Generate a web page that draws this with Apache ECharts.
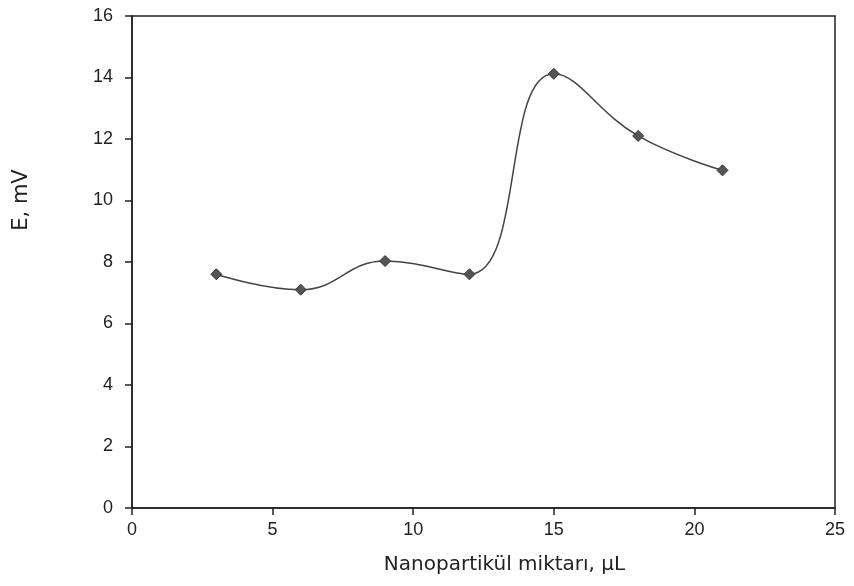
<!DOCTYPE html>
<html><head><meta charset="utf-8">
<script src="https://cdn.jsdelivr.net/npm/echarts@6/dist/echarts.min.js"></script>
<style>html,body{margin:0;padding:0;background:#fff}#c{width:854px;height:586px}</style>
</head><body><div id="c"></div>
<script>
var xValues = [3, 6, 9, 12, 15, 18, 21];
var eValues = [7.6, 7.1, 8.03, 7.6, 14.12, 12.1, 10.98];
var xTicks = [0, 5, 10, 15, 20, 25];
var yTicks = [0, 2, 4, 6, 8, 10, 12, 14, 16];

var data = xValues.map(function (x, i) { return [x, eValues[i]]; });
var chart = echarts.init(document.getElementById('c'));
var font = 'Liberation Sans, Arial, sans-serif';
var nameFont = 'DejaVu Sans, sans-serif';
chart.setOption({
  animation: false,
  grid: { left: 132, right: 19, top: 16, bottom: 78, containLabel: false, outerBoundsMode: 'none', show: true, borderColor: '#222', borderWidth: 1.5, backgroundColor: 'transparent' },
  xAxis: {
    type: 'value', min: xTicks[0], max: xTicks[xTicks.length - 1], interval: 5,
    name: 'Nanopartikül miktarı, µL', nameLocation: 'middle', nameGap: 47,
    nameTextStyle: { fontFamily: nameFont, fontSize: 20, color: '#222', padding: [0, 0, 0, 42] },
    axisLine: { lineStyle: { color: '#222', width: 1.5 } },
    axisTick: { show: true, inside: false, length: 7, lineStyle: { color: '#222', width: 1.5 } },
    axisLabel: { fontFamily: font, fontSize: 18, color: '#222', margin: 13 },
    splitLine: { show: false }
  },
  yAxis: {
    type: 'value', min: yTicks[0], max: yTicks[yTicks.length - 1], interval: 2,
    name: 'E, mV', nameLocation: 'middle', nameGap: 100, nameRotate: 90,
    nameTextStyle: { fontFamily: nameFont, fontSize: 21, color: '#222', padding: [0, 0, 0, 124] },
    axisLine: { lineStyle: { color: '#222', width: 1.5 } },
    axisTick: { show: true, inside: false, length: 7, lineStyle: { color: '#222', width: 1.5 } },
    axisLabel: { fontFamily: font, fontSize: 18, color: '#222', margin: 19 },
    splitLine: { show: false }
  },
  series: [{
    type: 'line', data: data, smooth: 0.45,
    symbol: 'diamond', symbolSize: 11,
    lineStyle: { color: '#444', width: 1.5 },
    itemStyle: { color: '#555', borderColor: '#333', borderWidth: 1 }
  }]
});
</script></body></html>
